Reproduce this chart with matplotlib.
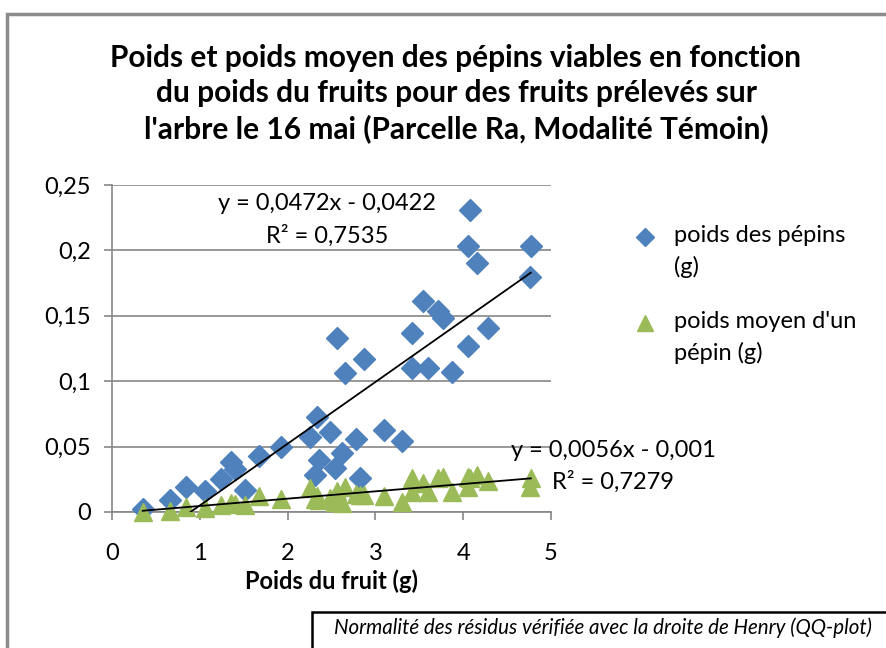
import matplotlib
matplotlib.use("Agg")
import matplotlib.pyplot as plt
from matplotlib.patches import Rectangle
from matplotlib.lines import Line2D

# Poids du fruit (g) and the two measured series
poids_fruit = [0.35, 0.66, 0.84, 1.06, 1.24, 1.36, 1.40, 1.51, 1.67, 1.92,
               2.26, 2.31, 2.33, 2.36, 2.48, 2.54, 2.56, 2.62, 2.65, 2.78,
               2.82, 2.87, 3.10, 3.30, 3.42, 3.42, 3.54, 3.60, 3.71, 3.77,
               3.87, 4.05, 4.08, 4.05, 4.16, 4.28, 4.77, 4.76]
poids_pepins = [0.002, 0.009, 0.019, 0.016, 0.025, 0.038, 0.033, 0.017, 0.043, 0.050,
                0.057, 0.028, 0.073, 0.040, 0.061, 0.034, 0.133, 0.045, 0.106, 0.056,
                0.026, 0.117, 0.063, 0.054, 0.137, 0.110, 0.161, 0.110, 0.154, 0.148,
                0.107, 0.127, 0.231, 0.203, 0.190, 0.141, 0.203, 0.180]
poids_moyen = [0.000, 0.001, 0.004, 0.003, 0.005, 0.007, 0.006, 0.005, 0.012, 0.010,
               0.018, 0.010, 0.012, 0.009, 0.011, 0.008, 0.016, 0.007, 0.019, 0.014,
               0.013, 0.013, 0.012, 0.008, 0.026, 0.015, 0.022, 0.015, 0.026, 0.027,
               0.015, 0.019, 0.026, 0.027, 0.028, 0.024, 0.026, 0.019]

# trendline coefficients as shown on the chart
pente_pepins, origine_pepins = 0.0472, -0.0422
pente_moyen, origine_moyen = 0.0056, -0.001

x_ticks = [0, 1, 2, 3, 4, 5]
y_ticks = [0, 0.05, 0.1, 0.15, 0.2, 0.25]
y_labels = ["0", "0,05", "0,1", "0,15", "0,2", "0,25"]

legende = ["poids des pépins\n(g)", "poids moyen d'un\npépin (g)"]

titre = ("Poids et poids moyen des pépins viables en fonction\n"
         "du poids du fruits pour des fruits prélevés sur\n"
         "l'arbre le 16 mai (Parcelle Ra, Modalité Témoin)")

plt.rcParams['font.family'] = ['Lato', 'DejaVu Sans']

bleu = "#4F81BD"
vert = "#9BBB59"
gris = "#868686"
fs = 17
ms_d, ms_t = 11.5, 13.5

W, H = 886, 648
fig = plt.figure(figsize=(W / 100, H / 100), dpi=100)

def fx(px):
    return px / W

def fy(py):
    return 1 - py / H

# outer chart frame
fig.patches.append(Rectangle((fx(7), fy(660)), fx(900) - fx(7), fy(14) - fy(660),
                             transform=fig.transFigure, fill=False,
                             edgecolor="#8c8c8c", lw=2.5))

ax = fig.add_axes([fx(112), fy(512), fx(551) - fx(112), fy(185) - fy(512)])
ax.set_xlim(0, 5)
ax.set_ylim(0, 0.25)

ax.set_yticks(y_ticks)
ax.set_yticklabels(y_labels)
ax.set_xticks(x_ticks)
ax.set_xticklabels([str(t) for t in x_ticks])
ax.yaxis.grid(True, color=gris, lw=1.2)
ax.set_axisbelow(True)
for s in ["top", "right"]:
    ax.spines[s].set_visible(False)
for s in ["left", "bottom"]:
    ax.spines[s].set_color(gris)
    ax.spines[s].set_linewidth(1.2)
ax.tick_params(axis="both", direction="out", length=6, color=gris, width=1.2,
               labelsize=fs)
ax.tick_params(axis="x", pad=16)
ax.tick_params(axis="y", pad=9)

ax.plot(poids_fruit, poids_pepins, linestyle="none", marker="D", ms=ms_d,
        color=bleu, clip_on=False, zorder=3)
ax.plot(poids_fruit, poids_moyen, linestyle="none", marker="^", ms=ms_t,
        color=vert, clip_on=False, zorder=3)

# linear trendlines
x0, x1 = min(poids_fruit), max(poids_fruit)
ax.plot([x0, x1], [pente_pepins * x0 + origine_pepins, pente_pepins * x1 + origine_pepins],
        color="black", lw=1.3, zorder=4)
ax.plot([x0, x1], [pente_moyen * x0 + origine_moyen, pente_moyen * x1 + origine_moyen],
        color="black", lw=1.3, zorder=4)

ax.text(2.45, 0.236, "y = 0,0472x - 0,0422", ha="center", va="center", fontsize=fs)
ax.text(2.45, 0.211, "R² = 0,7535", ha="center", va="center", fontsize=fs)
ax.text(5.71, 0.0474, "y = 0,0056x - 0,001", ha="center", va="center", fontsize=fs,
        clip_on=False)
ax.text(5.71, 0.0229, "R² = 0,7279", ha="center", va="center", fontsize=fs,
        clip_on=False)

ax.set_xlabel("Poids du fruit (g)", fontsize=fs, fontweight="bold", labelpad=4)

fig.text(fx(456), fy(94), titre, ha="center", va="center", fontsize=21.5,
         fontweight="bold", linespacing=1.3)

# legend, marker aligned with the first text line as in Excel
for i, (label, marker, ms, col) in enumerate(zip(legende, ["D", "^"], [9.5, 12],
                                                 [bleu, vert])):
    y_px = 237 + i * 86
    fig.add_artist(Line2D([fx(645)], [fy(y_px)], transform=fig.transFigure,
                          linestyle="none", marker=marker, ms=ms, color=col))
    fig.text(fx(674), fy(y_px - 12), label, ha="left", va="top", fontsize=fs,
             linespacing=1.55)

# note box
fig.patches.append(Rectangle((fx(312), fy(700)), fx(900) - fx(312), fy(612) - fy(700),
                             transform=fig.transFigure, fill=False,
                             edgecolor="black", lw=1.8))
fig.text(fx(603), fy(628), "Normalité des résidus vérifiée avec la droite de Henry (QQ-plot)",
         ha="center", va="center", fontsize=14.8, style="italic")

fig.savefig("out.png", dpi=100)
